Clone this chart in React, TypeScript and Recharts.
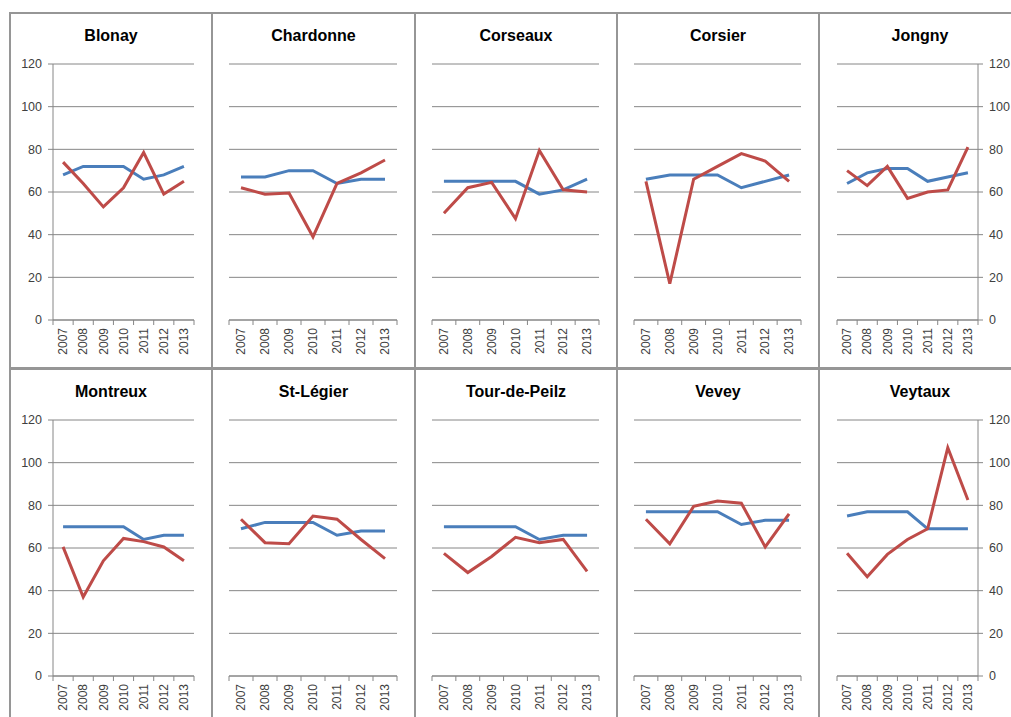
import React from 'react';
import { LineChart, Line, XAxis, YAxis, CartesianGrid } from 'recharts';

const years = ['2007', '2008', '2009', '2010', '2011', '2012', '2013'];
const yTicks = [0, 20, 40, 60, 80, 100, 120];

const communes = ['Blonay', 'Chardonne', 'Corseaux', 'Corsier', 'Jongny', 'Montreux', 'St-Légier', 'Tour-de-Peilz', 'Vevey', 'Veytaux'];

// blue series
const blonayBlue = [68, 72, 72, 72, 66, 68, 72];
const chardonneBlue = [67, 67, 70, 70, 64, 66, 66];
const corseauxBlue = [65, 65, 65, 65, 59, 61, 66];
const corsierBlue = [66, 68, 68, 68, 62, 65, 68];
const jongnyBlue = [64, 69, 71, 71, 65, 67, 69];
const montreuxBlue = [70, 70, 70, 70, 64, 66, 66];
const stLegierBlue = [69, 72, 72, 72, 66, 68, 68];
const tourBlue = [70, 70, 70, 70, 64, 66, 66];
const veveyBlue = [77, 77, 77, 77, 71, 73, 73];
const veytauxBlue = [75, 77, 77, 77, 69, 69, 69];

// red series
const blonayRed = [74, 64, 53, 62, 78.5, 59, 65];
const chardonneRed = [62, 59, 59.5, 39, 64, 69, 75];
const corseauxRed = [50, 62, 64.5, 47.5, 79.5, 61, 60];
const corsierRed = [65, 17, 66, 72, 78, 74.5, 65];
const jongnyRed = [70, 63, 72, 57, 60, 61, 81];
const montreuxRed = [60.5, 37, 54, 64.5, 63, 60.5, 54];
const stLegierRed = [73.5, 62.5, 62, 75, 73.5, 64, 55];
const tourRed = [57.5, 48.5, 56, 65, 62.5, 64, 49];
const veveyRed = [73.5, 62, 79.5, 82, 81, 60.5, 76];
const veytauxRed = [57.5, 46.5, 57, 64, 69, 107, 82.5];

const blueSeries = [blonayBlue, chardonneBlue, corseauxBlue, corsierBlue, jongnyBlue, montreuxBlue, stLegierBlue, tourBlue, veveyBlue, veytauxBlue];
const redSeries = [blonayRed, chardonneRed, corseauxRed, corsierRed, jongnyRed, montreuxRed, stLegierRed, tourRed, veveyRed, veytauxRed];

const panelLefts = [10, 212, 415, 617, 819];
const panelWidths = [202, 203, 202, 202, 202];
const rowTops = [13, 369];
const panelHeight = 355;

const BLUE = '#4a7ebb';
const RED = '#be4b48';
const GRID = '#868686';
const BORDER = '#969696';
const TEXT = '#404040';
const FONT = '"Liberation Sans", Arial, sans-serif';

const makeTick = (step: number) => (props: any) => {
  const { x, y, payload, index } = props;
  return (
    <g>
      <line x1={x - step / 2} x2={x - step / 2} y1={y} y2={y + 5} stroke={GRID} />
      {index === years.length - 1 && (
        <line x1={x + step / 2} x2={x + step / 2} y1={y} y2={y + 5} stroke={GRID} />
      )}
      <text
        x={x}
        y={y + 8}
        transform={`rotate(-90, ${x}, ${y + 8})`}
        textAnchor="end"
        dy="0.35em"
        fontSize={12}
        fontFamily={FONT}
        fill={TEXT}
      >
        {payload.value}
      </text>
    </g>
  );
};

type PanelProps = {
  title: string;
  blue: number[];
  red: number[];
  left: number;
  top: number;
  width: number;
  axis: 'left' | 'right' | 'none';
};

const Panel = ({ title, blue, red, left, top, width, axis }: PanelProps) => {
  const data = years.map((year, i) => ({ year, blue: blue[i], red: red[i] }));
  const margin = {
    top: 51,
    bottom: 0,
    left: axis === 'left' ? 7 : axis === 'right' ? 18 : 17,
    right: axis === 'right' ? 7 : 18,
  };
  const plotWidth = width - margin.left - margin.right - (axis === 'none' ? 0 : 36);
  const step = plotWidth / years.length;

  return (
    <div style={{ position: 'absolute', left, top, width, height: panelHeight }}>
      <div
        style={{
          position: 'absolute',
          left: 0,
          top: 14,
          width,
          textAlign: 'center',
          fontFamily: FONT,
          fontWeight: 'bold',
          fontSize: 16,
          color: '#000',
        }}
      >
        {title}
      </div>
      <LineChart width={width} height={panelHeight} data={data} margin={margin}>
        <CartesianGrid vertical={false} stroke={GRID} />
        <XAxis
          dataKey="year"
          interval={0}
          height={48}
          padding={{ left: step / 2, right: step / 2 }}
          axisLine={{ stroke: GRID }}
          tickLine={false}
          tickSize={0}
          tickMargin={0}
          tick={makeTick(step)}
        />
        {axis === 'none' ? (
          <YAxis hide domain={[0, 120]} ticks={yTicks} />
        ) : (
          <YAxis
            orientation={axis}
            domain={[0, 120]}
            ticks={yTicks}
            width={36}
            tickSize={5}
            tickMargin={6}
            axisLine={{ stroke: GRID }}
            tickLine={{ stroke: GRID }}
            tick={{ fill: TEXT, fontSize: 12.5, fontFamily: FONT }}
          />
        )}
        <Line type="linear" dataKey="blue" stroke={BLUE} strokeWidth={3} dot={false} isAnimationActive={false} />
        <Line type="linear" dataKey="red" stroke={RED} strokeWidth={3} dot={false} isAnimationActive={false} />
      </LineChart>
    </div>
  );
};

export default function App() {
  return (
    <div
      style={{
        position: 'absolute',
        left: 0,
        top: 0,
        width: 1011,
        height: 717,
        background: '#fff',
        overflow: 'hidden',
      }}
    >
      {communes.map((name, i) => {
        const col = i % 5;
        const row = Math.floor(i / 5);
        return (
          <Panel
            key={name}
            title={name}
            blue={blueSeries[i]}
            red={redSeries[i]}
            left={panelLefts[col]}
            top={rowTops[row]}
            width={panelWidths[col]}
            axis={col === 0 ? 'left' : col === 4 ? 'right' : 'none'}
          />
        );
      })}
      {/* panel borders */}
      <div style={{ position: 'absolute', left: 9, top: 12, width: 1010, height: 2, background: BORDER }} />
      <div style={{ position: 'absolute', left: 9, top: 367, width: 1010, height: 3, background: BORDER }} />
      {panelLefts.map((x) => (
        <div key={x} style={{ position: 'absolute', left: x - 1, top: 12, width: 2, height: 710, background: BORDER }} />
      ))}
    </div>
  );
}
